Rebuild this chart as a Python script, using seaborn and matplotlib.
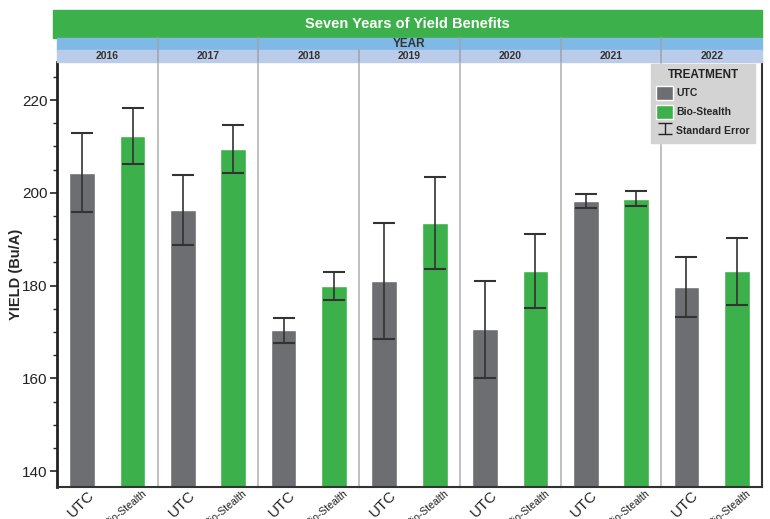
import pandas as pd
import seaborn as sns
import matplotlib.pyplot as plt
import matplotlib.transforms as mtransforms
from matplotlib.patches import Patch, Rectangle

# dados
years = ['2016', '2017', '2018', '2019', '2020', '2021', '2022']
treatments = ['UTC', 'Bio-Stealth']
utc_yield = [204.3, 196.3, 170.4, 181.0, 170.6, 198.2, 179.7]
bio_yield = [212.2, 209.4, 179.9, 193.5, 183.1, 198.7, 183.1]
utc_se = [8.5, 7.5, 2.7, 12.5, 10.4, 1.5, 6.4]
bio_se = [6.0, 5.2, 3.1, 9.9, 8.0, 1.6, 7.2]

gray = '#6d6e71'
green = '#3cb04a'
palette = {'UTC': gray, 'Bio-Stealth': green}

rows = []
for i, y in enumerate(years):
    rows.append({'Year': y, 'Treatment': 'UTC', 'Yield': utc_yield[i], 'SE': utc_se[i]})
    rows.append({'Year': y, 'Treatment': 'Bio-Stealth', 'Yield': bio_yield[i], 'SE': bio_se[i]})
df = pd.DataFrame(rows)

sns.set_style('ticks')
plt.rcParams['font.family'] = ['Liberation Sans', 'DejaVu Sans']

W, H = 770, 519
fig = plt.figure(figsize=(W / 100, H / 100), dpi=100)
axes = fig.subplots(1, 7, sharey=True, gridspec_kw={'wspace': 0})
fig.subplots_adjust(left=57 / W, right=762 / W, top=1 - 62 / H, bottom=1 - 487 / H)

for i, (ax, y) in enumerate(zip(axes, years)):
    sub = df[df['Year'] == y]
    sns.barplot(data=sub, x='Treatment', y='Yield', hue='Treatment', order=treatments,
                hue_order=treatments, palette=palette, width=0.51, errorbar=None,
                legend=False, saturation=1, ax=ax)
    ax.errorbar(range(2), sub['Yield'], yerr=sub['SE'], fmt='none',
                ecolor='#333333', elinewidth=1.2, capsize=8, capthick=1.5)
    ax.set_xlabel('')
    ax.set_ylabel('')
    ax.set_xlim(-0.5, 1.5)
    ax.tick_params(axis='x', length=0, pad=1)
    ax.set_xticks([0, 1])
    ax.set_xticklabels(treatments)
    for lab, fs, rot, dx in zip(ax.get_xticklabels(), [11, 7.5], [45, 40], [5, 9]):
        lab.set_rotation(rot)
        lab.set_ha('right')
        lab.set_va('top')
        lab.set_rotation_mode('anchor')
        lab.set_fontsize(fs)
        lab.set_color('#222222')
        lab.set_transform(lab.get_transform() +
                          mtransforms.ScaledTranslation(dx / 100, 0, fig.dpi_scale_trans))
    ax.spines['top'].set_visible(False)
    ax.spines['bottom'].set_color('#333333')
    ax.spines['bottom'].set_linewidth(1.5)
    if i > 0:
        ax.spines['left'].set_color('#b5b5b5')
        ax.spines['left'].set_linewidth(1.2)
        ax.tick_params(axis='y', which='both', length=0)
    else:
        ax.spines['left'].set_color('#222222')
        ax.spines['left'].set_linewidth(2)
    if i < 6:
        ax.spines['right'].set_visible(False)
    else:
        ax.spines['right'].set_color('#333333')
        ax.spines['right'].set_linewidth(1.5)

ax0 = axes[0]
ax0.set_ylim(136.6, 228.2)
ax0.set_yticks([140, 160, 180, 200, 220])
ax0.set_yticks(range(140, 230, 5), minor=True)
ax0.tick_params(axis='y', which='major', length=5, width=1.2, labelsize=11, colors='#222222', pad=2)
ax0.tick_params(axis='y', which='minor', length=3, width=1)
ax0.set_ylabel('YIELD (Bu/A)', fontsize=10.5, fontweight='bold')
ax0.yaxis.set_label_coords(-0.34, 0.5)

# cabecalho
fig.patches.append(Rectangle((53 / W, 1 - 38 / H), (762 - 53) / W, 28 / H,
                             transform=fig.transFigure, color=green, zorder=0))
fig.text((53 + 762) / 2 / W, 1 - 24 / H, 'Seven Years of Yield Benefits', color='white',
         fontsize=10.5, fontweight='bold', ha='center', va='center')
fig.patches.append(Rectangle((57 / W, 1 - 50 / H), (762 - 57) / W, 12 / H,
                             transform=fig.transFigure, color='#80b9e6', zorder=0))
fig.text((57 + 762) / 2 / W, 1 - 44 / H, 'YEAR', color='#333333', fontsize=8.5,
         fontweight='bold', ha='center', va='center')
fig.patches.append(Rectangle((57 / W, 1 - 62 / H), (762 - 57) / W, 12 / H,
                             transform=fig.transFigure, color='#bacce9', zorder=0))
for i, (ax, y) in enumerate(zip(axes, years)):
    pos = ax.get_position()
    fig.text((pos.x0 + pos.x1) / 2, 1 - 56 / H, y, color='#333333', fontsize=7.5,
             fontweight='bold', ha='center', va='center')
    if i > 0:
        top = 38 if y != '2019' else 50
        fig.add_artist(plt.Line2D([pos.x0, pos.x0], [1 - top / H, 1 - 62 / H],
                                  color='#9aa6b4', lw=1.2))

# legenda (barra de erro fora da area visivel so para gerar o simbolo)
se_handle = axes[6].errorbar([0], [0], yerr=[1], fmt='none', ecolor='#222222',
                             elinewidth=1, capsize=5, capthick=1)
handles = [Patch(facecolor=gray), Patch(facecolor=green), se_handle]
leg = axes[6].legend(handles, ['UTC', 'Bio-Stealth', 'Standard Error'], title='TREATMENT',
                     loc='upper right', bbox_to_anchor=(0.95, 1.0), frameon=True,
                     fancybox=False, facecolor='#d3d3d3', edgecolor='#d3d3d3', framealpha=1,
                     handlelength=1.6, handleheight=1.7, handletextpad=0.3,
                     borderpad=0.5, labelspacing=0.45, borderaxespad=0.2,
                     prop={'weight': 'bold', 'size': 7.5},
                     title_fontproperties={'weight': 'bold', 'size': 8.5})
leg.get_title().set_color('#222222')
axes[6].set_ylim(136.6, 228.2)

plt.savefig('out.png', dpi=100)
